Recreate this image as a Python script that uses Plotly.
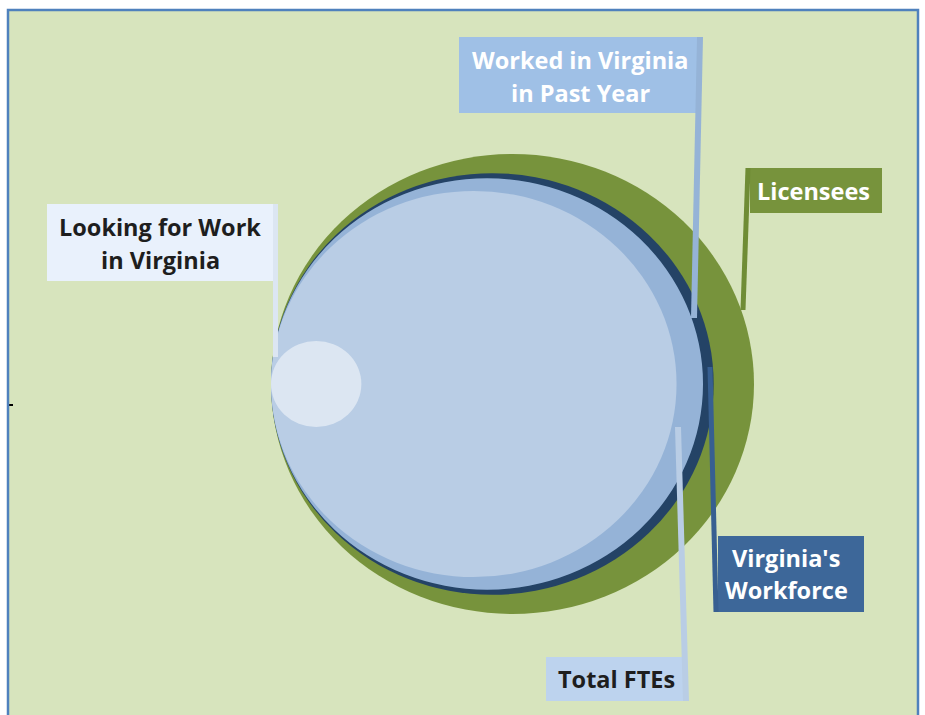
import math
import plotly.graph_objects as go

# ---- data (relative headcounts) ----
categories = ["Licensees", "Virginia's Workforce", "Worked in Virginia in Past Year", "Total FTEs", "Looking for Work in Virginia"]
values = [1000, 840, 800, 705, 35]
fill_colors = ["#77933C", "#244366", "#95B3D7", "#B9CDE5", "#DCE6F2"]

# label texts
label_lines = {
    "Licensees": ["Licensees"],
    "Virginia's Workforce": ["Virginia's", "Workforce"],
    "Worked in Virginia in Past Year": ["Worked in Virginia", "in Past Year"],
    "Total FTEs": ["Total FTEs"],
    "Looking for Work in Virginia": ["Looking for Work", "in Virginia"],
}

W, H = 925, 715
L, R, T, B = 8, 7, 10, 0

def py(p):  # pixel row -> data y
    return H - p

# geometry of the nested bubbles (all share the left edge)
left_edge = 271
center_row = 384
scale = 230 / math.sqrt(max(values))
aspect = 1.05

shapes = []
for cat, v, col in zip(categories, values, fill_colors):
    rv = scale * math.sqrt(v)
    rh = rv * aspect
    cx = left_edge + rh
    shapes.append(dict(type="circle", xref="x", yref="y",
                       x0=cx - rh, x1=cx + rh, y0=py(center_row + rv), y1=py(center_row - rv),
                       fillcolor=col, line=dict(width=0), layer="above"))

# label boxes
labels = [
    ("Looking for Work in Virginia", 47, 273, 204, 281, "#E9F1FC", "#1E1E1E", (275.5, 204, 275.5, 357), "#DCE6F2", 5, [227, 260], 160),
    ("Worked in Virginia in Past Year", 459, 697, 37, 113, "#9FC0E6", "#FFFFFF", (700, 37, 694, 318), "#95B3D7", 6, [60, 93], 580),
    ("Licensees", 750, 882, 168, 213, "#77933C", "#FFFFFF", (748, 168, 743, 310), "#6F8C35", 5, [191], 813),
    ("Virginia's Workforce", 718, 864, 536, 612, "#3D6799", "#FFFFFF", (710, 367, 716, 612), "#375F91", 5, [558, 590], 786),
    ("Total FTEs", 546, 683, 657, 701, "#BDD3EE", "#1E1E1E", (678, 427, 686, 701), "#B9CDE5", 6, [679], 616),
]

annotations = []
for cat, bx0, bx1, r0, r1, bfill, tcol, ln, lcol, lw, rows, tx in labels:
    shapes.append(dict(type="rect", xref="x", yref="y", x0=bx0, x1=bx1, y0=py(r1), y1=py(r0),
                       fillcolor=bfill, line=dict(width=0), layer="above"))
    shapes.append(dict(type="line", xref="x", yref="y", x0=ln[0], y0=py(ln[1]), x1=ln[2], y1=py(ln[3]),
                       line=dict(color=lcol, width=lw), layer="above"))
    for txt, row in zip(label_lines[cat], rows):
        annotations.append(dict(x=tx, y=py(row), xref="x", yref="y", text=txt, showarrow=False,
                                xanchor="center", yanchor="middle",
                                font=dict(family="Open Sans", size=23.5, color=tcol, weight="bold")))

# border (bottom edge falls outside the page, as in the original)
shapes.append(dict(type="rect", xref="paper", yref="paper", x0=0, x1=1, y0=-0.02, y1=1,
                   line=dict(color="#4F81BD", width=2.5), fillcolor="rgba(0,0,0,0)", layer="above"))

fig = go.Figure()
fig.update_layout(
    width=W, height=H,
    margin=dict(l=L, r=R, t=T, b=B, pad=0),
    paper_bgcolor="#FFFFFF", plot_bgcolor="#D7E4BD",
    xaxis=dict(range=[L, W - R], visible=False, fixedrange=True),
    yaxis=dict(range=[0, H - T], showgrid=False, zeroline=False, showline=False,
               showticklabels=False, ticks="inside", tickvals=[py(405)], ticklen=5,
               tickwidth=2, tickcolor="#000000", fixedrange=True),
    shapes=shapes, annotations=annotations, showlegend=False,
)
fig.write_html("out.html", config={"displayModeBar": False},
               post_script="document.body.style.margin='0';document.body.style.overflow='hidden';")
